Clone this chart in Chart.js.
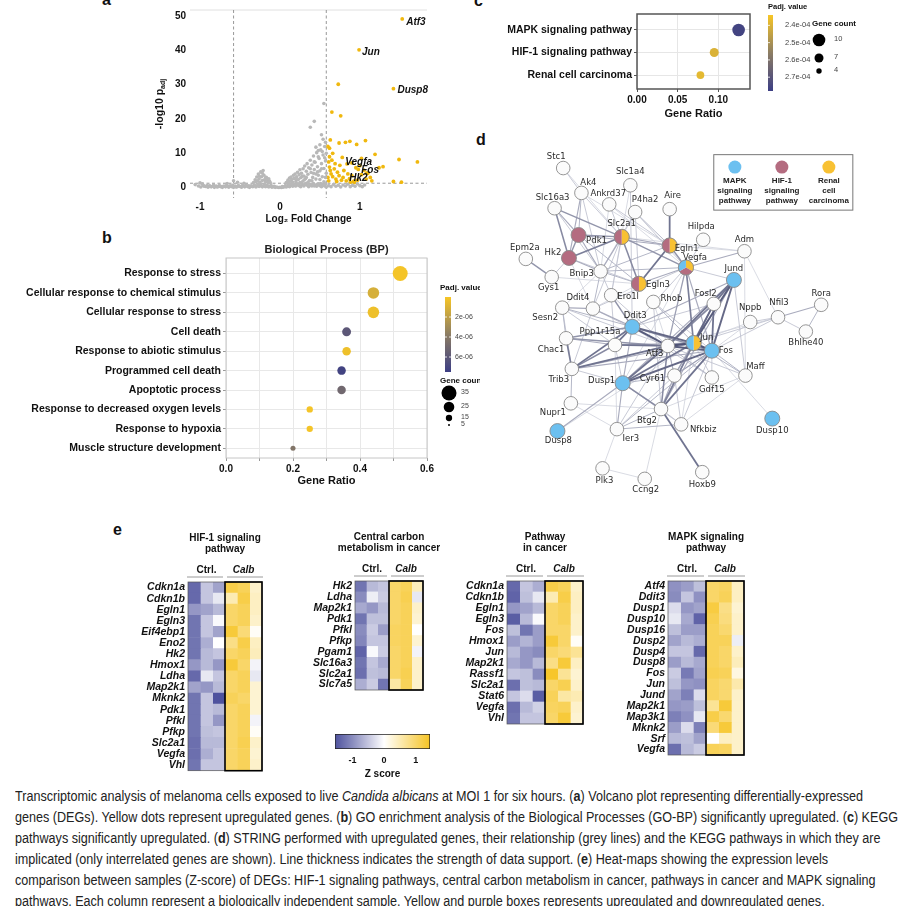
<!DOCTYPE html>
<html>
<head>
<meta charset="utf-8">
<script src="https://cdn.jsdelivr.net/npm/chart.js@4.4.1/dist/chart.umd.min.js"></script>
<style>
body { margin: 0; background: #fff; width: 898px; height: 906px; position: relative; overflow: hidden; font-family: 'Liberation Sans', Arial, sans-serif; }
canvas { position: absolute; }
.tag { position: absolute; font: bold 16px 'Liberation Sans', Arial, sans-serif; color: #111; }
#caption { position: absolute; left: 15px; top: 786px; font: 14px 'Liberation Sans', Arial, sans-serif; line-height: 21px; white-space: nowrap; color: #222; transform-origin: 0 0; }
</style>
</head>
<body>
<div class="tag" style="left:102px;top:-9px">a</div>
<div class="tag" style="left:102px;top:229px">b</div>
<div class="tag" style="left:474px;top:-8px">c</div>
<div class="tag" style="left:476px;top:131px">d</div>
<div class="tag" style="left:113px;top:521px">e</div>

<canvas id="volcano" style="left:150px;top:0" width="290" height="225"></canvas>
<canvas id="bp" style="left:0;top:228px" width="480" height="265"></canvas>
<canvas id="kegg" style="left:470px;top:0" width="420" height="125"></canvas>
<canvas id="network" style="left:480px;top:130px" width="410" height="385"></canvas>
<canvas id="heat1" style="left:100px;top:525px" width="175" height="255"></canvas>
<canvas id="heat2" style="left:290px;top:525px" width="150" height="190"></canvas>
<canvas id="heat3" style="left:440px;top:525px" width="160" height="210"></canvas>
<canvas id="heat4" style="left:600px;top:525px" width="160" height="240"></canvas>
<canvas id="zbar" style="left:320px;top:725px" width="130" height="55"></canvas>

<div id="caption"><span id="capFirst">Transcriptomic analysis of melanoma cells exposed to live <i>Candida albicans</i> at MOI 1 for six hours. (<b>a</b>) Volcano plot representing differentially-expressed</span><br>genes (DEGs). Yellow dots represent upregulated genes. (<b>b</b>) GO enrichment analysis of the Biological Processes (GO-BP) significantly upregulated. (<b>c</b>) KEGG<br>pathways significantly upregulated. (<b>d</b>) STRING performed with upregulated genes, their relationship (grey lines) and the KEGG pathways in which they are<br>implicated (only interrelated genes are shown). Line thickness indicates the strength of data support. (<b>e</b>) Heat-maps showing the expression levels<br>comparison between samples (Z-score) of DEGs: HIF-1 signaling pathways, central carbon metabolism in cancer, pathways in cancer and MAPK signaling<br>pathways. Each column represent a biologically independent sample. Yellow and purple boxes represents upregulated and downregulated genes,</div>

<script>
// ---- a: volcano plot (log2 fold change, -log10 padj) ----
var greyGenes = [
  [-1.06,0.9],[-1.02,0.5],[-0.99,0.2],[-0.96,0.7],[-0.93,0.35],[-0.9,0.15],[-0.88,0.55],[-0.86,0.25],[-0.84,0.4],[-0.82,0.1],
  [-0.8,0.45],[-0.78,0.2],[-0.76,0.6],[-0.74,0.3],[-0.72,0.1],[-0.7,0.5],[-0.68,0.25],[-0.66,0.4],[-0.64,0.15],[-0.62,0.55],
  [-0.6,0.3],[-0.58,0.1],[-0.56,0.45],[-0.54,0.2],[-0.52,0.6],[-0.5,0.35],[-0.48,0.15],[-0.46,0.5],[-0.44,0.25],[-0.42,0.7],
  [-0.4,0.3],[-0.38,0.1],[-0.36,0.55],[-0.34,0.3],[-0.32,0.8],[-0.3,0.2],[-0.28,0.6],[-0.26,0.35],[-0.24,0.9],[-0.22,0.25],
  [-0.2,0.6],[-0.18,0.3],[-0.16,0.7],[-0.14,0.2],[-0.12,0.4],[-0.1,0.15],[-0.08,0.3],[-0.06,0.1],[-0.04,0.2],[-0.02,0.05],
  [0.0,0.1],[0.02,0.05],[0.04,0.15],[0.06,0.3],[0.08,0.2],[0.1,0.5],[0.12,0.3],[0.14,0.7],[0.16,0.4],[0.18,0.9],
  [0.2,0.5],[0.22,1.1],[0.24,0.6],[0.26,0.3],[0.28,0.9],[0.3,0.5],[0.32,1.2],[0.34,0.7],[0.36,0.3],[0.38,1.0],
  [0.4,0.5],[0.42,1.2],[0.44,0.8],[0.46,0.4],[0.48,1.1],[0.5,0.6],[0.52,0.3],[0.54,0.9],[0.56,0.5],[0.58,0.2],
  [0.61,0.6],[0.64,0.3],[0.67,0.9],[0.7,0.4],[0.73,0.7],[0.76,0.2],[0.79,0.8],[0.82,0.5],[0.85,1.0],[0.88,0.3],
  [0.91,0.7],[0.94,0.4],[0.97,1.1],[1.0,0.6],[1.03,0.3],[1.06,0.8],
  [-0.95,0.45],[-0.91,0.6],[-0.87,0.4],[-0.83,0.7],[-0.79,0.3],[-0.75,0.45],[-0.71,0.35],[-0.67,0.6],[-0.63,0.4],[-0.59,0.7],
  [-0.55,0.25],[-0.51,0.4],[-0.47,0.65],[-0.43,0.45],[-0.39,0.55],[-0.35,0.4],[-0.31,0.5],[-0.27,0.95],[-0.23,0.5],[-0.19,0.9],
  [-0.15,0.45],[-0.11,0.6],[-0.07,0.4],[0.03,0.35],[0.07,0.6],[0.11,0.9],[0.15,1.0],[0.19,0.6],[0.23,0.8],[0.27,1.2],
  [0.31,0.9],[0.35,1.1],[0.39,0.7],[0.43,0.5],[0.47,0.9],[0.51,1.2],[0.55,0.7],[0.57,1.1],
  [-1.0,1.4],[-0.97,1.1],[-0.58,2.0],[-0.53,1.6],[-0.45,1.3],[-0.66,1.2],
  [-0.33,1.5],[-0.31,2.3],[-0.3,1.7],[-0.29,3.1],[-0.28,2.0],[-0.27,4.0],[-0.26,2.6],[-0.25,1.6],[-0.24,4.6],[-0.23,3.2],
  [-0.22,2.1],[-0.21,5.0],[-0.2,3.6],[-0.19,2.4],[-0.18,1.7],[-0.17,3.0],[-0.16,2.2],[-0.15,1.5],[-0.14,2.6],[-0.13,1.9],
  [-0.12,1.4],[-0.26,3.4],[-0.22,4.2],[-0.18,2.9],
  [0.08,1.5],[0.1,2.2],[0.11,1.4],[0.12,2.8],[0.13,1.9],[0.14,3.1],[0.15,2.4],[0.16,1.6],[0.17,3.6],[0.18,2.7],
  [0.19,4.0],[0.2,1.8],[0.21,3.2],[0.22,4.5],[0.23,2.4],[0.24,3.8],[0.25,5.2],[0.26,2.9],[0.27,4.2],[0.28,1.7],
  [0.29,5.5],[0.3,3.4],[0.31,6.3],[0.32,2.6],[0.33,4.8],[0.34,7.0],[0.35,3.9],[0.36,5.8],[0.37,2.1],[0.38,8.0],
  [0.39,4.4],[0.4,6.6],[0.41,3.0],[0.42,9.2],[0.43,5.3],[0.44,7.4],[0.45,2.5],[0.46,10.2],[0.47,6.1],[0.48,3.6],
  [0.49,8.5],[0.5,4.9],[0.51,11.0],[0.52,7.0],[0.53,3.2],[0.54,9.5],[0.55,5.6],[0.56,12.0],[0.57,7.8],[0.58,4.2],
  [0.2,2.5],[0.25,1.5],[0.3,2.2],[0.35,1.6],[0.4,2.0],[0.45,4.0],[0.5,2.4],[0.55,1.7],[0.33,3.0],[0.28,3.3],
  [0.42,4.2],[0.47,4.6],[0.52,5.5],[0.57,3.0],[0.38,5.5],[0.43,7.5],[0.48,9.0],[0.53,10.5],[0.56,8.7],
  [0.43,19.3],[0.38,17.6],[0.55,24.5],[0.52,15.4],[0.57,13.2],[0.5,12.5],[0.45,11.8],[0.54,14.1],[0.48,10.8],[0.58,10.0]
];
var upGenes = [
  [1.53,49.1],[0.99,40.1],[1.42,28.8],[0.73,30.1],[0.65,22.0],[0.76,20.9],[0.63,13.9],[0.74,13.0],[0.82,13.2],[0.875,13.5],
  [0.96,12.6],[1.07,13.7],[0.6,12.0],[1.19,9.7],[0.62,9.0],[1.49,8.2],[1.72,7.5],[1.02,8.5],[1.29,6.1],[0.61,7.5],
  [0.62,6.0],[0.63,5.0],[0.64,4.0],[0.66,3.2],[0.68,5.5],[0.7,2.5],[0.72,4.5],[0.74,3.5],[0.75,6.5],[0.77,2.2],
  [0.79,3.0],[0.8,5.0],[0.83,2.0],[0.85,4.0],[0.87,2.6],[0.9,3.5],[0.92,1.8],[0.95,5.8],[0.97,2.2],[1.0,6.4],
  [1.02,3.8],[1.05,5.1],[1.08,2.5],[1.1,4.2],[1.13,3.0],[1.15,2.0],[0.6,3.0],[0.61,2.0],[0.65,8.0],[0.69,7.0],
  [0.71,1.8],[0.88,1.6],[0.93,1.5],[1.42,1.8],[1.52,1.6],[1.24,5.8],[0.66,10.0],[0.62,11.5],[0.98,5.3],[1.08,4.2],
  [0.93,1.9],[0.84,6.9],[0.9,7.2],[0.78,8.8]
];
var labelGenes = ['Atf3', 'Jun', 'Dusp8', 'Vegfa', 'Fos', 'Hk2'];
var labelFC = [1.53, 0.99, 1.42, 0.98, 1.08, 0.93];
var labelP = [49.1, 40.1, 28.8, 5.3, 4.2, 1.9];
var fcTicks = [-1, 0, 1];
var pTicks = [0, 10, 20, 30, 40, 50];
var fcCut = 0.58, pCut = 1.3;

// ---- b: GO biological process ----
var bpTerms = ['Response to stress', 'Cellular response to chemical stimulus', 'Cellular response to stress', 'Cell death',
  'Response to abiotic stimulus', 'Programmed cell death', 'Apoptotic process', 'Response to decreased oxygen levels',
  'Response to hypoxia', 'Muscle structure development'];
var bpRatio = [0.52, 0.44, 0.44, 0.36, 0.36, 0.345, 0.345, 0.25, 0.25, 0.2];
var bpCount = [35, 27, 27, 21, 20, 20, 20, 15, 15, 12];
var bpPadj = [0.1e-6, 1.2e-6, 0.3e-6, 6.0e-6, 0.3e-6, 7.2e-6, 5.0e-6, 0.1e-6, 0.1e-6, 4.2e-6];
var bpTicks = [0, 0.1, 0.2, 0.3, 0.4, 0.5, 0.6];

// ---- c: KEGG ----
var keggTerms = ['MAPK signaling pathway', 'HIF-1 signaling pathway', 'Renal cell carcinoma'];
var keggRatio = [0.125, 0.095, 0.078];
var keggCount = [10, 7, 6];
var keggPadj = [2.76e-4, 2.40e-4, 2.38e-4];
var keggTicks = [0, 0.05, 0.1];

// ---- d: STRING network ----
var nodeNames = ['Stc1','Ak4','Slc1a4','Ankrd37','Slc16a3','P4ha2','Aire','Slc2a1','Pdk1','Hk2','Epm2a','Hilpda','Egln1','Adm',
  'Vegfa','Bnip3','Gys1','Jund','Egln3','Ddit4','Ero1l','Rhob','Fosl2','Rora','Sesn2','Nppb','Nfil3','Ddit3','Ppp1r15a','Chac1',
  'Bhlhe40','Atf3','Jun','Fos','Trib3','Dusp1','Cyr61','Gdf15','Maff','Nupr1','Btg2','Nfkbiz','Ier3','Dusp8','Dusp10','Plk3','Ccng2','Hoxb9'];
var nodeX = [558,577,628,606,549,633,669,619,574,564,519,704,669,747,686,597,546,736,637,589,608,652,715,827,557,753,782,630,612,561,
  811,667,694,713,567,620,674,713,748,566,660,681,614,552,776,599,643,703];
var nodeY = [161,187,179,199,203,207,204,233,231,255,256,236,242,248,265,269,275,278,282,308,294,301,303,304,307,322,317,327,346,339,
  332,347,344,352,371,386,378,380,378,407,413,429,434,436,423,475,486,479];
// pathway membership, clockwise from 12 o'clock (M = MAPK, H = HIF-1, R = renal cell carcinoma)
var nodeGroups = ['','','','','','','','RH','H','H','','','RH','','RHM','','','M','RH','','','','','','','','','M','','',
  '','','RM','M','','M','','','','','','','','M','M','','',''];
var edges = [
  ['Stc1','Ak4',0.5],['Stc1','Slc2a1',0.45],['Ak4','Hk2',0.6],['Ak4','Pdk1',0.55],['Ak4','Bnip3',0.5],['Ak4','Slc2a1',0.5],['Ak4','Egln1',0.45],
  ['Slc16a3','Hk2',0.75],['Slc16a3','Pdk1',0.6],['Slc16a3','Slc2a1',0.7],['Slc16a3','Bnip3',0.5],
  ['Ankrd37','Slc2a1',0.5],['Ankrd37','Egln1',0.5],['Ankrd37','Vegfa',0.45],['Ankrd37','Bnip3',0.45],
  ['Slc1a4','Ddit3',0.5],['Slc1a4','Ero1l',0.45],
  ['P4ha2','Egln1',0.55],['P4ha2','Slc2a1',0.5],['P4ha2','Vegfa',0.5],['P4ha2','Egln3',0.5],['P4ha2','Bnip3',0.45],
  ['Aire','Egln1',0.85],
  ['Slc2a1','Pdk1',0.7],['Slc2a1','Hk2',0.8],['Slc2a1','Egln1',0.6],['Slc2a1','Egln3',0.75],['Slc2a1','Vegfa',0.7],['Slc2a1','Bnip3',0.6],
  ['Slc2a1','Ero1l',0.5],['Slc2a1','Ddit4',0.5],['Slc2a1','Adm',0.45],
  ['Pdk1','Hk2',0.7],['Pdk1','Egln1',0.6],['Pdk1','Bnip3',0.6],['Pdk1','Egln3',0.55],
  ['Hk2','Bnip3',0.6],['Hk2','Egln3',0.5],['Hk2','Ddit4',0.45],
  ['Epm2a','Gys1',0.7],['Gys1','Hk2',0.5],['Gys1','Egln3',0.45],
  ['Egln1','Egln3',0.85],['Egln1','Vegfa',0.7],['Egln1','Bnip3',0.55],['Egln1','Adm',0.45],
  ['Egln3','Vegfa',0.6],['Egln3','Bnip3',0.55],['Egln3','Ddit4',0.45],['Hilpda','Vegfa',0.5],
  ['Vegfa','Adm',0.6],['Vegfa','Jun',0.8],['Vegfa','Fos',0.6],['Vegfa','Atf3',0.65],['Vegfa','Ddit4',0.5],['Vegfa','Bnip3',0.55],
  ['Vegfa','Jund',0.5],['Vegfa','Ddit3',0.5],['Vegfa','Dusp1',0.45],
  ['Adm','Maff',0.45],['Adm','Nfil3',0.45],
  ['Bnip3','Ddit4',0.55],['Bnip3','Ero1l',0.5],['Bnip3','Sesn2',0.45],
  ['Ddit4','Sesn2',0.6],['Ddit4','Ddit3',0.6],['Ddit4','Atf3',0.5],['Ddit4','Trib3',0.5],
  ['Ero1l','Ddit3',0.7],['Ero1l','Atf3',0.5],['Ero1l','Ppp1r15a',0.5],
  ['Rhob','Jun',0.55],['Rhob','Fos',0.5],['Rhob','Btg2',0.5],['Rhob','Atf3',0.45],
  ['Fosl2','Jun',0.9],['Fosl2','Fos',0.85],['Fosl2','Jund',0.85],['Fosl2','Atf3',0.75],['Fosl2','Dusp1',0.6],['Fosl2','Btg2',0.6],
  ['Fosl2','Cyr61',0.5],['Fosl2','Ddit3',0.5],
  ['Jund','Jun',0.95],['Jund','Fos',0.9],['Jund','Atf3',0.85],['Jund','Btg2',0.6],['Jund','Dusp1',0.6],['Jund','Maff',0.5],['Jund','Ddit3',0.6],
  ['Rora','Nfil3',0.6],['Rora','Bhlhe40',0.55],
  ['Nfil3','Bhlhe40',0.5],['Nfil3','Nppb',0.5],['Nfil3','Jun',0.5],['Nfil3','Fos',0.5],['Nfil3','Atf3',0.45],
  ['Nppb','Jun',0.45],['Nppb','Fos',0.45],
  ['Ddit3','Atf3',0.95],['Ddit3','Jun',0.9],['Ddit3','Fos',0.7],['Ddit3','Trib3',0.85],['Ddit3','Chac1',0.7],['Ddit3','Ppp1r15a',0.85],
  ['Ddit3','Sesn2',0.55],['Ddit3','Dusp1',0.6],
  ['Ppp1r15a','Atf3',0.85],['Ppp1r15a','Trib3',0.75],['Ppp1r15a','Chac1',0.6],['Ppp1r15a','Jun',0.6],['Ppp1r15a','Sesn2',0.5],
  ['Ppp1r15a','Dusp1',0.5],['Ppp1r15a','Ier3',0.45],
  ['Chac1','Trib3',0.8],['Chac1','Atf3',0.7],['Chac1','Sesn2',0.55],['Sesn2','Trib3',0.5],['Sesn2','Atf3',0.5],
  ['Atf3','Jun',0.99],['Atf3','Fos',0.95],['Atf3','Dusp1',0.85],['Atf3','Btg2',0.75],['Atf3','Cyr61',0.6],['Atf3','Trib3',0.85],
  ['Atf3','Gdf15',0.55],['Atf3','Maff',0.5],['Atf3','Ier3',0.5],
  ['Jun','Fos',0.99],['Jun','Dusp1',0.85],['Jun','Btg2',0.8],['Jun','Maff',0.55],['Jun','Cyr61',0.65],['Jun','Gdf15',0.5],
  ['Jun','Trib3',0.6],['Jun','Nfkbiz',0.45],['Jun','Dusp8',0.45],
  ['Fos','Dusp1',0.9],['Fos','Btg2',0.85],['Fos','Maff',0.55],['Fos','Cyr61',0.65],['Fos','Nfkbiz',0.5],['Fos','Ier3',0.55],
  ['Fos','Gdf15',0.5],['Fos','Dusp10',0.45],['Fos','Trib3',0.6],
  ['Dusp1','Dusp8',0.6],['Dusp1','Btg2',0.75],['Dusp1','Ier3',0.6],['Dusp1','Cyr61',0.55],['Dusp1','Trib3',0.5],['Dusp1','Nfkbiz',0.5],
  ['Trib3','Nupr1',0.55],['Nupr1','Ier3',0.45],['Nupr1','Btg2',0.45],
  ['Btg2','Hoxb9',0.85],['Btg2','Ier3',0.55],['Btg2','Nfkbiz',0.5],['Btg2','Cyr61',0.6],['Btg2','Ccng2',0.45],
  ['Cyr61','Ier3',0.5],['Cyr61','Nfkbiz',0.5],['Ier3','Plk3',0.45],['Ier3','Nfkbiz',0.55],['Plk3','Ccng2',0.45],
  ['Maff','Btg2',0.45],['Maff','Nfkbiz',0.45],['Gdf15','Ddit3',0.5]
];

// ---- e: heat-maps (Z score per gene, 3 Ctrl + 3 Calb samples) ----
var samples = ['Ctrl 1', 'Ctrl 2', 'Ctrl 3', 'Calb 1', 'Calb 2', 'Calb 3'];
var hifGenes = ['Cdkn1a','Cdkn1b','Egln1','Egln3','Eif4ebp1','Eno2','Hk2','Hmox1','Ldha','Map2k1','Mknk2','Pdk1','Pfkl','Pfkp','Slc2a1','Vegfa','Vhl'];
var hifZ = [
  [-1.3,-0.5,-0.8,1.2,1.1,0.35],[-1.3,-0.5,-0.2,0.5,1.2,0.4],[-0.9,-0.8,-0.6,1.0,1.1,0.4],[-1.2,-0.5,-0.05,1.0,1.1,0.35],
  [-1.2,-0.5,-0.8,1.3,0.9,0.05],[-1.2,-0.7,0.0,0.8,1.2,0.4],[-1.2,-0.6,-0.5,1.0,1.1,0.45],[-0.9,-0.6,-0.9,1.3,1.0,-0.1],
  [-1.3,-0.2,-0.5,1.0,1.1,-0.2],[-0.8,-0.9,-0.6,1.0,1.1,0.3],[-1.2,-0.5,-1.5,1.1,1.0,0.3],[-1.2,-0.5,-0.6,1.0,1.1,0.3],
  [-1.2,-0.5,-0.9,1.0,1.1,-0.1],[-1.2,-0.55,-0.5,1.0,1.1,0.05],[-1.25,-0.6,-0.6,1.0,1.15,0.35],[-1.25,-0.7,-0.5,1.0,1.1,0.3],
  [-1.2,-0.5,-0.5,1.0,1.1,0.35]
];
var ccmGenes = ['Hk2','Ldha','Map2k1','Pdk1','Pfkl','Pfkp','Pgam1','Slc16a3','Slc2a1','Slc7a5'];
var ccmZ = [
  [-1.2,-0.6,-0.5,1.0,1.1,0.45],[-1.0,-0.15,-0.45,1.0,1.15,-0.2],[-0.75,-0.9,-0.6,1.0,1.1,0.35],[-1.2,-0.55,-0.55,1.0,1.1,0.3],
  [-1.0,-0.45,-0.85,1.05,1.1,0.0],[-1.05,-0.5,-0.5,1.05,1.1,0.3],[-1.35,-0.05,-0.45,1.0,1.1,-0.1],[-1.2,-0.5,-0.75,1.0,1.1,0.35],
  [-1.25,-0.55,-0.6,1.0,1.15,0.35],[-0.7,-0.45,-1.2,0.6,1.1,0.35]
];
var picGenes = ['Cdkn1a','Cdkn1b','Egln1','Egln3','Fos','Hmox1','Jun','Map2k1','Rassf1','Slc2a1','Stat6','Vegfa','Vhl'];
var picZ = [
  [-1.3,-0.5,-0.7,1.2,1.1,0.35],[-1.35,-0.55,-0.2,0.5,1.2,0.4],[-0.9,-0.8,-0.6,1.0,1.1,0.4],[-1.4,-0.6,-0.05,1.0,1.1,0.35],
  [-0.55,-1.2,-0.85,1.0,1.0,0.35],[-0.85,-0.65,-0.85,1.3,1.0,0.05],[-0.6,-0.9,-1.0,1.0,0.9,0.7],[-0.75,-0.9,-0.6,0.8,1.3,0.4],
  [-0.5,-0.55,-1.0,1.4,0.7,0.3],[-1.25,-0.55,-0.6,1.0,1.15,0.35],[-0.5,-0.3,-1.4,1.1,0.6,0.5],[-1.25,-0.6,-0.4,1.05,1.1,0.35],
  [-1.2,-0.5,-0.5,1.0,1.3,0.3]
];
var mapkGenes = ['Atf4','Ddit3','Dusp1','Dusp10','Dusp16','Dusp2','Dusp4','Dusp8','Fos','Jun','Jund','Map2k1','Map3k1','Mknk2','Srf','Vegfa'];
var mapkZ = [
  [-0.95,-0.85,-0.55,1.0,1.05,0.4],[-1.0,-0.5,-0.95,1.0,1.1,0.4],[-0.3,-0.9,-0.8,1.25,0.8,0.3],[-0.2,-0.75,-1.35,1.15,0.85,0.35],
  [-0.55,-0.85,-0.85,1.1,0.95,0.35],[-0.8,-0.6,-0.7,1.1,1.1,-0.15],[-0.5,-0.5,-1.3,1.1,1.0,0.35],[-0.85,-0.6,-0.75,1.1,1.0,0.45],
  [-0.45,-1.15,-0.8,1.15,1.1,0.2],[-0.55,-0.9,-0.95,1.05,0.95,0.55],[-0.8,-1.1,-0.3,1.05,0.95,0.35],[-0.9,-0.85,-0.55,0.7,1.3,0.35],
  [-1.1,-0.95,-0.2,1.2,0.95,0.35],[-0.85,-0.3,-1.1,0.9,1.3,0.35],[-0.6,-0.55,-0.8,0.0,0.4,0.35],[-1.25,-0.6,-0.45,1.1,1.05,0.35]
];
var zTicks = [-1, 0, 1];
var zMin = -1.55, zMax = 1.45;

Chart.defaults.font.family = "'Liberation Sans', Arial, sans-serif";
Chart.defaults.font.size = 10;
Chart.defaults.color = '#111';
Chart.defaults.animation = false;
Chart.defaults.responsive = false;
Chart.defaults.plugins.legend.display = false;
Chart.defaults.plugins.tooltip.enabled = false;

var FONT = "'Liberation Sans', Arial, sans-serif";

function mix(c1, c2, t) {
  return 'rgb(' + c1.map(function (v, i) { return Math.round(v + (c2[i] - v) * t); }).join(',') + ')';
}
// padj palette: yellow -> brownish grey -> dark blue
function padjColor(t) {
  t = Math.max(0, Math.min(1, t));
  if (t < 0.5) return mix([247, 198, 38], [140, 125, 100], t * 2);
  return mix([140, 125, 100], [60, 62, 132], (t - 0.5) * 2);
}
function zColor(z) {
  var t = Math.min(Math.abs(z) / 1.5, 1);
  return mix([255, 255, 255], z < 0 ? [78, 82, 158] : [246, 194, 28], t);
}
function line(ctx, x1, y1, x2, y2) {
  ctx.beginPath(); ctx.moveTo(x1, y1); ctx.lineTo(x2, y2); ctx.stroke();
}

// ---------- a ----------
var volcanoDeco = {
  id: 'volcanoDeco',
  beforeDatasetsDraw: function (chart) {
    var ctx = chart.ctx, a = chart.chartArea, x = chart.scales.x, y = chart.scales.y;
    ctx.save();
    ctx.strokeStyle = '#e0e0e0'; ctx.lineWidth = 1;
    line(ctx, a.left, a.top, a.right, a.top);
    ctx.strokeStyle = '#8c8c8c'; ctx.lineWidth = 0.9; ctx.setLineDash([3, 2.5]);
    [-fcCut, fcCut].forEach(function (v) {
      var px = x.getPixelForValue(v); line(ctx, px, a.top, px, a.bottom);
    });
    var py = y.getPixelForValue(pCut);
    line(ctx, a.left, py, a.right, py);
    ctx.restore();
  },
  afterDraw: function (chart) {
    var ctx = chart.ctx, a = chart.chartArea, x = chart.scales.x, y = chart.scales.y;
    var off = { Atf3: [4, 3], Jun: [3, 2], Dusp8: [4, 2], Vegfa: [-13, -7], Fos: [-5, -3], Hk2: [-5, -3] };
    ctx.save();
    ctx.fillStyle = '#111'; ctx.textBaseline = 'middle'; ctx.textAlign = 'left';
    ctx.font = 'bold italic 10px ' + FONT;
    labelGenes.forEach(function (g, i) {
      ctx.fillText(g, x.getPixelForValue(labelFC[i]) + off[g][0], y.getPixelForValue(labelP[i]) + off[g][1]);
    });
    // y title with subscript
    ctx.translate(10, (a.top + a.bottom) / 2);
    ctx.rotate(-Math.PI / 2);
    var big = 'bold 10.5px ' + FONT, small = 'bold 7px ' + FONT;
    ctx.font = big; var w1 = ctx.measureText('-log10 p').width;
    ctx.font = small; var w2 = ctx.measureText('adj').width;
    var x0 = -(w1 + w2) / 2;
    ctx.font = big; ctx.fillText('-log10 p', x0, 0);
    ctx.font = small; ctx.fillText('adj', x0 + w1, 3);
    ctx.restore();
  }
};

new Chart(document.getElementById('volcano'), {
  type: 'scatter',
  data: {
    datasets: [
      { data: greyGenes.map(function (p) { return { x: p[0], y: p[1] }; }), backgroundColor: '#b8b8b8', pointRadius: 1.8, borderWidth: 0 },
      { data: upGenes.map(function (p) { return { x: p[0], y: p[1] }; }), backgroundColor: '#f0b80e', pointRadius: 1.9, borderWidth: 0 }
    ]
  },
  options: {
    layout: { padding: { top: 7, right: 13 } },
    scales: {
      x: {
        min: -1.125, max: 1.84, grid: { display: false, drawTicks: false }, border: { display: false },
        afterBuildTicks: function (s) { s.ticks = fcTicks.map(function (v) { return { value: v }; }); },
        ticks: { font: { weight: 'bold', size: 10 }, padding: 3 },
        title: { display: true, text: 'Log₂ Fold Change', font: { weight: 'bold', size: 10 }, padding: 0 },
        afterFit: function (s) { s.height = 27; }
      },
      y: {
        min: -3, max: 51.7, grid: { display: false, drawTicks: false }, border: { display: false },
        afterBuildTicks: function (s) { s.ticks = pTicks.map(function (v) { return { value: v }; }); },
        ticks: { font: { weight: 'bold', size: 10 }, padding: 4 },
        afterFit: function (s) { s.width = 40; }
      }
    }
  },
  plugins: [volcanoDeco]
});

// ---------- b ----------
var bpPadjMax = 7.5e-6;
function rB(n) { return 1 + (n - 5) * 6.5 / 30; }

var bpDeco = {
  id: 'bpDeco',
  beforeDatasetsDraw: function (chart) {
    var ctx = chart.ctx, a = chart.chartArea;
    ctx.save(); ctx.strokeStyle = '#c6c6c6'; ctx.lineWidth = 1;
    ctx.strokeRect(a.left, a.top, a.right - a.left, a.bottom - a.top);
    ctx.restore();
  },
  afterDraw: function (chart) {
    var ctx = chart.ctx, a = chart.chartArea;
    ctx.save();
    ctx.fillStyle = '#222'; ctx.textAlign = 'center'; ctx.textBaseline = 'middle';
    ctx.font = 'bold 11px ' + FONT;
    ctx.fillText('Biological Process (BP)', (a.left + a.right) / 2, a.top - 8);
    // colour bar legend
    ctx.textAlign = 'left';
    ctx.font = 'bold 8px ' + FONT; ctx.fillStyle = '#111';
    ctx.fillText('Padj. value', 440, 60);
    var top = 69, h = 75;
    var g = ctx.createLinearGradient(0, top, 0, top + h);
    for (var i = 0; i <= 10; i++) g.addColorStop(i / 10, padjColor(i / 10));
    ctx.fillStyle = g; ctx.fillRect(445, top, 6, h);
    ctx.font = '7px ' + FONT; ctx.fillStyle = '#444'; ctx.strokeStyle = '#fff'; ctx.lineWidth = 0.8;
    [2e-6, 4e-6, 6e-6].forEach(function (v) {
      var yy = top + v / bpPadjMax * h;
      line(ctx, 445, yy, 447, yy); line(ctx, 449, yy, 451, yy);
      ctx.fillText(v.toExponential(0).replace('e-6', 'e-06'), 455, yy);
    });
    ctx.font = 'bold 8px ' + FONT; ctx.fillStyle = '#111';
    ctx.fillText('Gene count', 440, 153);
    [[35, 165], [25, 179], [15, 190], [5, 197]].forEach(function (c) {
      ctx.fillStyle = '#000'; ctx.beginPath(); ctx.arc(449, c[1], rB(c[0]), 0, Math.PI * 2); ctx.fill();
      ctx.fillStyle = '#444'; ctx.font = '7px ' + FONT; ctx.fillText(String(c[0]), 461, c[1] - 1);
    });
    ctx.restore();
  }
};

new Chart(document.getElementById('bp'), {
  type: 'bubble',
  data: {
    datasets: [{
      data: bpTerms.map(function (t, i) { return { x: bpRatio[i], y: i, r: rB(bpCount[i]) }; }),
      backgroundColor: bpPadj.map(function (p) { return padjColor(p / bpPadjMax); }),
      borderWidth: 0
    }]
  },
  options: {
    layout: { padding: { top: 30, right: 53, bottom: 5 } },
    scales: {
      x: {
        min: 0, max: 0.6,
        afterBuildTicks: function (s) { s.ticks = bpTicks.map(function (v) { return { value: v }; }); },
        ticks: { font: { weight: 'bold', size: 10 }, padding: 2, callback: function (v) { return Math.round(v * 10) % 2 === 0 ? v.toFixed(1) : ''; } },
        grid: { color: '#e8e8e8', tickLength: 3, tickColor: '#999' }, border: { display: false },
        title: { display: true, text: 'Gene Ratio', font: { weight: 'bold', size: 11 }, padding: 0 },
        afterFit: function (s) { s.height = 30; }
      },
      y: {
        min: -0.8, max: 9.5, reverse: true,
        afterBuildTicks: function (s) { s.ticks = bpTerms.map(function (t, i) { return { value: i }; }); },
        ticks: { autoSkip: false, font: { weight: 'bold', size: 10.5 }, padding: 2, callback: function (v) { return bpTerms[v]; } },
        grid: { color: '#e8e8e8', tickLength: 3, tickColor: '#999' }, border: { display: false },
        afterFit: function (s) { s.width = 226; }
      }
    }
  },
  plugins: [bpDeco]
});

// ---------- c ----------
var keggPadjMin = 2.34e-4, keggPadjMax = 2.78e-4;
function rC(n) { return 2.7 + (n - 4) * 0.6; }

var keggDeco = {
  id: 'keggDeco',
  afterDraw: function (chart) {
    var ctx = chart.ctx, a = chart.chartArea;
    ctx.save();
    ctx.strokeStyle = '#555'; ctx.lineWidth = 1.5;
    ctx.strokeRect(a.left, a.top, a.right - a.left, a.bottom - a.top);
    ctx.textAlign = 'left'; ctx.textBaseline = 'middle';
    ctx.font = 'bold 7.5px ' + FONT; ctx.fillStyle = '#111';
    ctx.fillText('Padj. value', 298, 7);
    var top = 15, h = 76;
    var g = ctx.createLinearGradient(0, top, 0, top + h);
    for (var i = 0; i <= 10; i++) g.addColorStop(i / 10, padjColor(i / 10));
    ctx.fillStyle = g; ctx.fillRect(298, top, 5, h);
    ctx.font = '7.5px ' + FONT; ctx.fillStyle = '#444'; ctx.strokeStyle = '#fff'; ctx.lineWidth = 0.8;
    [2.4e-4, 2.5e-4, 2.6e-4, 2.7e-4].forEach(function (v) {
      var yy = top + (v - keggPadjMin) / (keggPadjMax - keggPadjMin) * h;
      line(ctx, 298, yy, 300, yy);
      ctx.fillText(v.toExponential(1).replace('e-4', 'e-04'), 315, yy);
    });
    ctx.font = 'bold 8px ' + FONT; ctx.fillStyle = '#111';
    ctx.fillText('Gene count', 342, 24);
    [[10, 40], [7, 58], [4, 71]].forEach(function (c) {
      ctx.fillStyle = '#000'; ctx.beginPath(); ctx.arc(349, c[1], rC(c[0]), 0, Math.PI * 2); ctx.fill();
      ctx.fillStyle = '#444'; ctx.font = '7.5px ' + FONT; ctx.fillText(String(c[0]), 364, c[1] - 1);
    });
    ctx.restore();
  }
};

new Chart(document.getElementById('kegg'), {
  type: 'bubble',
  data: {
    datasets: [{
      data: keggTerms.map(function (t, i) { return { x: keggRatio[i], y: i, r: rC(keggCount[i]) }; }),
      backgroundColor: keggPadj.map(function (p) { return padjColor((p - keggPadjMin) / (keggPadjMax - keggPadjMin)); }),
      borderWidth: 0
    }]
  },
  options: {
    layout: { padding: { top: 14, right: 140, bottom: 4 } },
    scales: {
      x: {
        min: 0, max: 0.139,
        afterBuildTicks: function (s) { s.ticks = keggTicks.map(function (v) { return { value: v }; }); },
        ticks: { font: { weight: 'bold', size: 10 }, padding: 2, callback: function (v) { return v.toFixed(2); } },
        grid: { color: '#e6e6e6', tickLength: 3, tickColor: '#555' }, border: { display: false },
        title: { display: true, text: 'Gene Ratio', font: { weight: 'bold', size: 11 }, padding: 0 },
        afterFit: function (s) { s.height = 32; }
      },
      y: {
        min: -0.71, max: 2.62, reverse: true,
        afterBuildTicks: function (s) { s.ticks = keggTerms.map(function (t, i) { return { value: i }; }); },
        ticks: { autoSkip: false, font: { weight: 'bold', size: 10.5 }, padding: 2, callback: function (v) { return keggTerms[v]; } },
        grid: { color: '#e6e6e6', tickLength: 3, tickColor: '#555' }, border: { display: false },
        afterFit: function (s) { s.width = 167; }
      }
    }
  },
  plugins: [keggDeco]
});

// ---------- d ----------
var groupColor = { M: '#6cc0f0', H: '#b46c80', R: '#f8c133' };
var labelPos = {
  Stc1: [-7, -11], Ak4: [7, -10], Slc1a4: [0, -13], Ankrd37: [-1, -11], Slc16a3: [-2, -10], P4ha2: [10, -12], Aire: [3, -13],
  Slc2a1: [0, -13], Pdk1: [18, 6], Hk2: [-16, -5], Epm2a: [-1, -11], Hilpda: [-2, -13], Egln1: [17, 3], Adm: [0, -11],
  Vegfa: [9, -10], Bnip3: [-19, 2], Gys1: [-3, 11], Jund: [0, -11], Egln3: [19, 1], Ddit4: [-15, -11], Ero1l: [17, 2],
  Rhob: [18, -3], Fosl2: [-8, -10], Rora: [0, -11], Sesn2: [-17, 10], Nppb: [0, -14], Nfil3: [1, -14], Ddit3: [3, -11],
  Ppp1r15a: [-15, -13], Chac1: [-15, 12], Bhlhe40: [0, 11], Atf3: [-13, 8], Jun: [13, -5], Fos: [14, 0], Trib3: [-13, 11],
  Dusp1: [-21, -2], Cyr61: [-22, 3], Gdf15: [0, 12], Maff: [10, -9], Nupr1: [-18, 9], Btg2: [-14, 12], Nfkbiz: [22, 5],
  Ier3: [14, 10], Dusp8: [1, 10], Dusp10: [0, 12], Plk3: [2, 12], Ccng2: [1, 11], Hoxb9: [0, 13]
};

var netDeco = {
  id: 'netDeco',
  beforeDatasetsDraw: function (chart) {
    var ctx = chart.ctx, x = chart.scales.x, y = chart.scales.y;
    ctx.save();
    edges.slice().sort(function (p, q) { return p[2] - q[2]; }).forEach(function (e) {
      var i = nodeNames.indexOf(e[0]), j = nodeNames.indexOf(e[1]);
      var t = (e[2] - 0.4) / 0.6;
      ctx.strokeStyle = mix([214, 216, 226], [78, 82, 116], t);
      ctx.lineWidth = 0.6 + t * 1.6;
      line(ctx, x.getPixelForValue(nodeX[i]), y.getPixelForValue(nodeY[i]), x.getPixelForValue(nodeX[j]), y.getPixelForValue(nodeY[j]));
    });
    ctx.restore();
  },
  afterDatasetsDraw: function (chart) {
    var ctx = chart.ctx, x = chart.scales.x, y = chart.scales.y;
    var meta = chart.getDatasetMeta(0);
    ctx.save();
    nodeGroups.forEach(function (g, i) {
      if (g.length < 2) return;
      var el = meta.data[i], r = 7.5, n = g.length;
      for (var k = 0; k < n; k++) {
        ctx.beginPath(); ctx.moveTo(el.x, el.y);
        ctx.arc(el.x, el.y, r, -Math.PI / 2 + k * 2 * Math.PI / n, -Math.PI / 2 + (k + 1) * 2 * Math.PI / n);
        ctx.closePath(); ctx.fillStyle = groupColor[g[k]]; ctx.fill();
      }
      ctx.beginPath(); ctx.arc(el.x, el.y, r, 0, Math.PI * 2);
      ctx.strokeStyle = '#8a8a8a'; ctx.lineWidth = 0.8; ctx.stroke();
    });
    ctx.fillStyle = '#2a2a2a'; ctx.textAlign = 'center'; ctx.textBaseline = 'middle';
    ctx.font = "8.5px 'DejaVu Sans', sans-serif";
    nodeNames.forEach(function (nm, i) {
      var el = meta.data[i], o = labelPos[nm];
      ctx.fillText(nm, el.x + o[0], el.y + o[1]);
    });
    // legend box
    var bx = x.getPixelForValue(715), by = y.getPixelForValue(147);
    var bw = x.getPixelForValue(860) - bx, bh = y.getPixelForValue(205) - by;
    ctx.fillStyle = '#fff'; ctx.fillRect(bx, by, bw, bh);
    ctx.strokeStyle = '#777'; ctx.lineWidth = 1; ctx.strokeRect(bx, by, bw, bh);
    var cols = [[737, 'M', ['MAPK', 'signaling', 'pathway']], [786, 'H', ['HIF-1', 'signaling', 'pathway']], [835, 'R', ['Renal', 'cell', 'carcinoma']]];
    cols.forEach(function (c) {
      var cx = x.getPixelForValue(c[0]);
      ctx.beginPath(); ctx.arc(cx, y.getPixelForValue(160), 6.5, 0, Math.PI * 2);
      ctx.fillStyle = groupColor[c[1]]; ctx.fill();
      ctx.fillStyle = '#222'; ctx.font = 'bold 8px ' + FONT;
      c[2].forEach(function (t, k) { ctx.fillText(t, cx, y.getPixelForValue(174 + k * 10.5)); });
    });
    ctx.restore();
  }
};

new Chart(document.getElementById('network'), {
  type: 'scatter',
  data: {
    datasets: [{
      data: nodeNames.map(function (n, i) { return { x: nodeX[i], y: nodeY[i] }; }),
      pointRadius: nodeGroups.map(function (g) { return g ? 7.5 : 6.8; }),
      backgroundColor: nodeGroups.map(function (g) { return g.length === 1 ? groupColor[g] : '#fbfbfb'; }),
      borderColor: '#8a8a8a', borderWidth: 0.9
    }]
  },
  options: {
    layout: { padding: 0 },
    scales: {
      x: { display: false, min: 480, max: 890 },
      y: { display: false, min: 130, max: 515, reverse: true }
    }
  },
  plugins: [netDeco]
});

// ---------- e ----------
var heatDeco = {
  id: 'heatDeco',
  afterDraw: function (chart) {
    var o = chart.options.plugins.heatDeco;
    var ctx = chart.ctx, a = chart.chartArea, x = chart.scales.x;
    var x0 = x.getPixelForValue(0), x3 = x.getPixelForValue(3), x6 = x.getPixelForValue(6);
    ctx.save();
    ctx.fillStyle = '#111'; ctx.textAlign = 'center'; ctx.textBaseline = 'middle';
    ctx.font = 'bold 10px ' + FONT;
    o.title.forEach(function (t, i) { ctx.fillText(t, (x0 + x6) / 2, a.top - 44 + i * 11.5); });
    ctx.fillText('Ctrl.', (x0 + x3) / 2, a.top - 12);
    ctx.font = 'bold italic 10px ' + FONT;
    ctx.fillText('Calb', (x3 + x6) / 2, a.top - 12);
    ctx.strokeStyle = '#9a9a9a'; ctx.lineWidth = 1;
    line(ctx, x0 - 1, a.top - 5, x3 - 2, a.top - 5);
    line(ctx, x3 + 2, a.top - 5, x6 + 1, a.top - 5);
    ctx.strokeStyle = '#555'; ctx.lineWidth = 0.7;
    ctx.strokeRect(x0, a.top, x6 - x0, a.bottom - a.top);
    ctx.strokeStyle = '#000'; ctx.lineWidth = 1.6;
    ctx.strokeRect(x3, a.top, x6 - x3, a.bottom - a.top);
    ctx.restore();
  }
};

function heatmap(id, genes, z, title, labelWidth, pad) {
  return new Chart(document.getElementById(id), {
    type: 'bar',
    data: {
      labels: genes,
      datasets: samples.map(function (s, j) {
        return {
          label: s,
          data: genes.map(function () { return 1; }),
          backgroundColor: z.map(function (row) { return zColor(row[j]); }),
          borderWidth: 0, barPercentage: 1, categoryPercentage: 1
        };
      })
    },
    options: {
      indexAxis: 'y',
      layout: { padding: pad },
      scales: {
        x: { stacked: true, min: 0, max: 6, display: false },
        y: {
          stacked: true, grid: { display: false, drawTicks: false }, border: { display: false },
          ticks: { autoSkip: false, font: { weight: 'bold', style: 'italic', size: 10.5 }, padding: 3 },
          afterFit: function (s) { s.width = labelWidth; }
        }
      },
      plugins: { heatDeco: { title: title } }
    },
    plugins: [heatDeco]
  });
}

heatmap('heat1', hifGenes, hifZ, ['HIF-1 signaling', 'pathway'], 88, { top: 57, right: 13, bottom: 8 });
heatmap('heat2', ccmGenes, ccmZ, ['Central carbon', 'metabolism in cancer'], 65, { top: 56, right: 17, bottom: 25 });
heatmap('heat3', picGenes, picZ, ['Pathway', 'in cancer'], 67, { top: 56, right: 17, bottom: 11 });
heatmap('heat4', mapkGenes, mapkZ, ['MAPK signaling', 'pathway'], 68, { top: 56, right: 16, bottom: 10 });

// Z score colour key
new Chart(document.getElementById('zbar'), {
  type: 'bar',
  data: {
    labels: [''],
    datasets: [{
      data: [[zMin, zMax]],
      backgroundColor: function (c) {
        var ch = c.chart;
        if (!ch.chartArea) return '#fff';
        var sx = ch.scales.x;
        var g = ch.ctx.createLinearGradient(sx.getPixelForValue(zMin), 0, sx.getPixelForValue(zMax), 0);
        [zMin, -1, -0.5, 0, 0.5, 1, zMax].forEach(function (v) { g.addColorStop((v - zMin) / (zMax - zMin), zColor(v)); });
        return g;
      },
      borderColor: '#222', borderWidth: 1, borderSkipped: false, barPercentage: 1, categoryPercentage: 1
    }]
  },
  options: {
    indexAxis: 'y',
    layout: { padding: { left: 15, right: 20, top: 9 } },
    scales: {
      x: {
        min: zMin, max: zMax, grid: { display: false, drawTicks: false }, border: { display: false },
        afterBuildTicks: function (s) { s.ticks = zTicks.map(function (v) { return { value: v }; }); },
        ticks: { font: { weight: 'bold', size: 9 }, padding: 6 },
        title: { display: true, text: 'Z score', font: { weight: 'bold', size: 10 }, padding: 0 },
        afterFit: function (s) { s.height = 31; }
      },
      y: { display: false }
    }
  }
});

// fit the caption to the width of the original text block
var cap = document.getElementById('caption');
var firstW = document.getElementById('capFirst').getBoundingClientRect().width;
cap.style.transform = 'scaleX(' + (848 / firstW) + ')';
</script>
</body>
</html>
